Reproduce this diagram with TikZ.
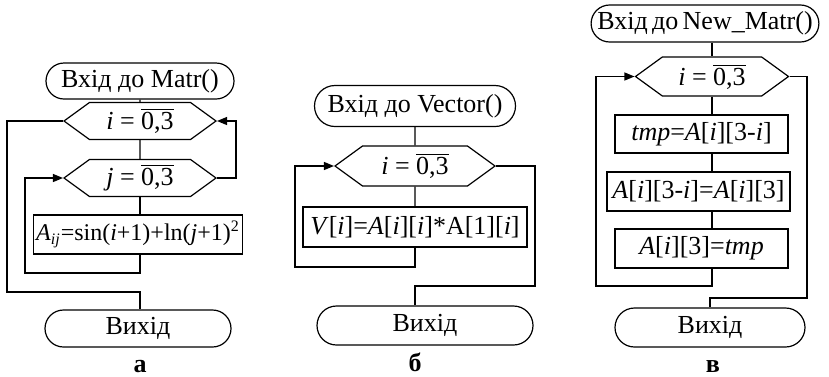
\documentclass[tikz,border=0pt]{standalone}
\usepackage{fontspec}
\setmainfont{Liberation Serif}
\usepackage{tikz}
\usetikzlibrary{arrows.meta,shapes.misc,shapes.symbols}
\tikzset{
  term/.style    = {rounded rectangle, draw, inner sep=1pt, minimum height=18.5pt},
  cyc/.style     = {signal, signal to=east and west, signal pointer angle=72,
                    draw, inner sep=1pt, minimum height=19.5pt},
  procbox/.style = {rectangle, draw, inner sep=1pt, minimum height=19.5pt},
  flow/.style    = {-{Triangle[length=5pt,width=4pt]}},
  figlab/.style  = {font=\fontsize{13}{15}\selectfont\bfseries},
}
\newcommand{\cycrange}[1]{\textit{#1} = $\overline{\mbox{0,3}}$}
\begin{document}
\begin{tikzpicture}[x=0.5pt, y=-0.5pt, line width=0.6pt,
    every node/.style={font=\fontsize{13}{15}\selectfont}]
\useasboundingbox (0,0) rectangle (829,376);
\node[term, minimum width=96pt, minimum height=18pt] (ta) at (140,81) {Вхід до Matr()};
\node[cyc, minimum width=76pt, minimum height=18.5pt] (ia) at (140,121) {\cycrange{i}};
\node[cyc, minimum width=76pt, minimum height=18.5pt] (ja) at (140,178) {\cycrange{j}};
\node[procbox, minimum width=104.5pt, font=\fontsize{12}{14}\selectfont] (ba) at (138,234.5)
  {\textit{A}\textsubscript{\textit{ij}}=sin(\textit{i}+1)+ln(\textit{j}+1)\textsuperscript{2}};
\node[term, minimum width=95pt] (ea) at (138,328.5) {Вихід};
\node[figlab] (la) at (140,367) {а};
\coordinate (a1) at (25,273);
\coordinate (a2) at (236,121);
\coordinate (a3) at (7,292);
\draw (ta) -- (ia);
\draw (ia) -- (ja);
\draw (ja.south) -- (ja.south |- ba.north);
\draw[flow] (ja.south |- ba.south) |- (a1) |- (ja.west);
\draw[flow] (ja.east) -| (a2) -- (ia.east);
\draw (ia.west) -| (a3) -| (ea.north -| ia.south);

\node[term, minimum width=102.5pt, minimum height=20.5pt] (tb) at (415,106) {Вхід до Vector()};
\node[cyc, minimum width=80pt, minimum height=20pt] (ib) at (415,166) {\cycrange{i}};
\node[procbox, minimum width=112pt, minimum height=20pt] (bb) at (415,227)
  {\textit{V}[\textit{i}]=\textit{A}[\textit{i}][\textit{i}]*A[1][\textit{i}]};
\node[term, minimum width=110pt, minimum height=19.5pt] (eb) at (425,325.5) {Вихід};
\node[figlab] (lb) at (415,362) {б};
\coordinate (b1) at (295,267);
\coordinate (b2) at (535,286);
\draw (tb) -- (ib);
\draw (ib) -- (bb);
\draw[flow] (bb.south) |- (b1) |- (ib.west);
\draw (ib.east) -| (b2) -| (eb.north -| bb.south);

\node[term, minimum width=110pt] (tc) at (705,23.5) {Вхід\,до\,New\_Matr()};
\node[cyc, minimum width=76.5pt] (ic) at (712,76.5) {\cycrange{i}};
\node[procbox, minimum width=86.5pt, minimum height=19pt] (c1) at (701.5,134)
  {\textit{tmp}=\textit{A}[\textit{i}][3-\textit{i}]};
\node[procbox, minimum width=91.5pt] (c2) at (698.5,191.5)
  {\textit{A}[\textit{i}][3-\textit{i}]=\textit{A}[\textit{i}][3]};
\node[procbox, minimum width=86.5pt] (c3) at (701.5,248.5)
  {\textit{A}[\textit{i}][3]=\textit{tmp}};
\node[term, minimum width=97pt, minimum height=19.5pt] (ec) at (710,327.5) {Вихід};
\node[figlab] (lc) at (713,367) {в};
\coordinate (c4) at (596,286);
\coordinate (c5) at (807,298);
\draw (tc.south -| ic.north) -- (ic.north);
\draw (ic.south) -- (ic.south |- c1.north);
\draw (ic.south |- c1.south) -- (ic.south |- c2.north);
\draw (ic.south |- c2.south) -- (ic.south |- c3.north);
\draw[flow] (ic.south |- c3.south) |- (c4) |- (ic.west);
\draw (ic.east) -| (c5) -| (ec.north);
\end{tikzpicture}
\end{document}
